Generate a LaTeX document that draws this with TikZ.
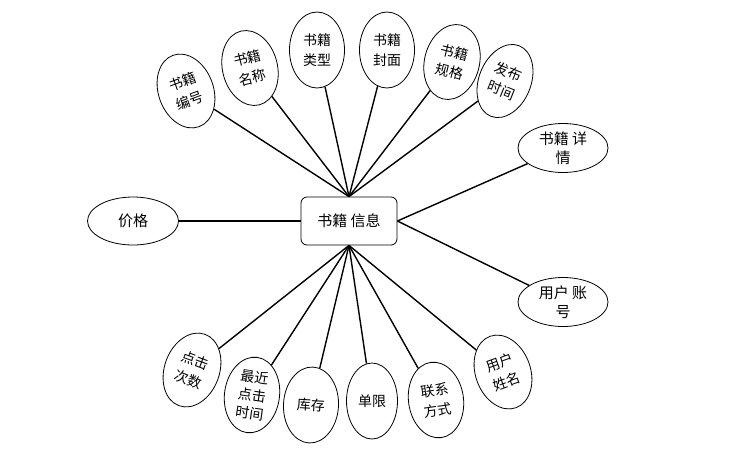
\documentclass[tikz,border=0pt]{standalone}
\usepackage{fontspec}
\newfontfamily\cjk{Noto Sans CJK SC}
\usetikzlibrary{shapes.geometric}

\begin{document}
\begin{tikzpicture}[x=1pt,y=-1pt,
  attr/.style={ellipse,draw,line width=0.8pt,inner sep=0pt,minimum width=55pt,minimum height=76pt,align=center,font=\cjk\fontsize{14}{20}\selectfont},
  flat/.style={attr,minimum width=90pt,minimum height=49pt},
  link/.style={line width=1.4pt}]
  \useasboundingbox (0,0) rectangle (755,456);
  \node[draw,line width=0.8pt,rounded corners=6pt,minimum width=96pt,minimum height=48pt,font=\cjk\fontsize{15}{18}\selectfont] (info) at (349,221) {书籍 信息};
  % top
  \node[attr,rotate=20] (bh) at (186,91) {书籍\\编号};
  \node[attr,rotate=14] (mc) at (250,68) {书籍\\名称};
  \node[attr] (lx) at (317,50) {书籍\\类型};
  \node[attr] (fm) at (387,50) {书籍\\封面};
  \node[attr,rotate=-14] (gg) at (452,62) {书籍\\规格};
  \node[attr,rotate=-22,minimum width=52pt] (fb) at (505,81) {发布\\时间};
  % sides
  \node[flat,minimum width=91pt,minimum height=48pt,font=\cjk\fontsize{15}{18}\selectfont] (jg) at (133,221) {价格};
  \node[flat,font=\cjk\fontsize{15}{19}\selectfont] (xq) at (563,148) {书籍 详\\情};
  \node[flat,font=\cjk\fontsize{15}{19}\selectfont] (zh) at (563,302) {用户 账\\号};
  % bottom
  \node[attr,rotate=-20] (dj) at (192,370) {点击\\次数};
  \node[attr,rotate=-8,font=\cjk\fontsize{14}{18}\selectfont] (zj) at (252,395) {最近\\点击\\时间};
  \node[attr,rotate=-3] (kc) at (311,405) {库存};
  \node[attr,minimum width=51pt] (dx) at (372,401) {单限};
  \node[attr,rotate=8] (lf) at (436,400) {联系\\方式};
  \node[attr,rotate=20] (xm) at (503,372) {用户\\姓名};
  \foreach \n in {bh,mc,lx,fm,gg,fb} \draw[link] (info.north) -- (\n);
  \foreach \n in {dj,zj,kc,dx,lf,xm} \draw[link] (info.south) -- (\n);
  \draw[link] (info.east) -- (xq); \draw[link] (info.east) -- (zh);
  \draw[link] (info.west) -- (jg);
\end{tikzpicture}
\end{document}
